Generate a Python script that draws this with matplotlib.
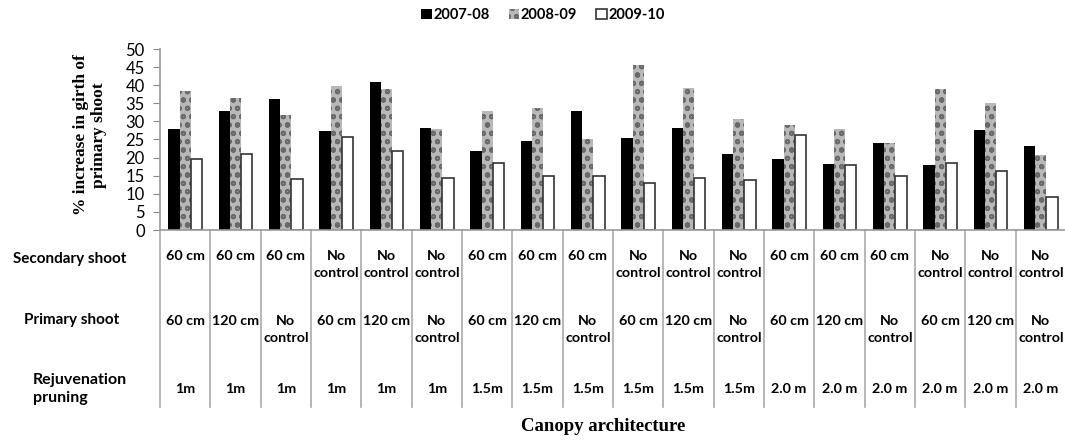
import numpy as np
import matplotlib.pyplot as plt
import matplotlib.transforms as mtransforms

# Data
years = ["2007-08", "2008-09", "2009-10"]
v0708 = [27.8, 32.8, 36.1, 27.4, 40.8, 28.3, 21.9, 24.7, 33.0, 25.3, 28.3, 21.0, 19.7, 18.3, 24.1, 17.9, 27.5, 23.3]
v0809 = [38.5, 36.4, 31.7, 39.8, 38.9, 28.0, 33.0, 33.7, 25.0, 45.6, 39.2, 30.7, 29.1, 28.0, 24.0, 38.9, 35.2, 20.6]
v0910 = [19.6, 20.9, 14.2, 25.6, 21.9, 14.5, 18.5, 14.8, 14.8, 13.1, 14.5, 13.8, 26.3, 17.9, 14.8, 18.5, 16.2, 9.2]

secondary = ["60 cm", "60 cm", "60 cm", "No\ncontrol", "No\ncontrol", "No\ncontrol"] * 3
primary = ["60 cm", "120 cm", "No\ncontrol"] * 6
rejuv = ["1m"] * 6 + ["1.5m"] * 6 + ["2.0 m"] * 6
row_labels = ["Secondary shoot", "Primary shoot", "Rejuvenation\npruning"]

W, H = 1065, 440
fig = plt.figure(figsize=(W / 100, H / 100), dpi=100)
ax = fig.add_axes([160 / W, 1 - 230 / H, (1066 - 160) / W, (230 - 49) / H])

n = len(v0708)
x = np.arange(n)
bw = 0.225
ax.bar(x - bw, v0708, bw, color="black", label=years[0])
plt.rcParams["hatch.linewidth"] = 1.4
ax.bar(x, v0809, bw, facecolor="#b8b8b8", edgecolor="#6a6a6a", hatch="oo", linewidth=0, label=years[1])
ax.bar(x + bw, v0910, bw, facecolor="white", edgecolor="#333333", linewidth=1.2, label=years[2])

ax.set_xlim(-0.5, n - 0.5)
ax.set_ylim(0, 50)
ax.set_yticks(range(0, 51, 5))
ax.set_xticks(np.arange(-0.5, n, 1))
ax.set_xticklabels([])
ax.tick_params(axis="x", length=0)
ax.tick_params(axis="y", length=5, color="#888888", labelsize=12, pad=6)
for lab in ax.get_yticklabels():
    lab.set_fontfamily("Lato")
for s in ["top", "right"]:
    ax.spines[s].set_visible(False)
for s in ["left", "bottom"]:
    ax.spines[s].set_color("#999999")
    ax.spines[s].set_linewidth(1.2)

ax.set_ylabel("% increase in girth of\nprimary shoot", fontfamily="Liberation Serif",
              fontweight="bold", fontsize=12.5, linespacing=1.15)
ax.yaxis.set_label_coords(-53 / (1066 - 160), 0.525)

# table below the axes
tr = mtransforms.blended_transform_factory(ax.transData, fig.transFigure)
def fy(py):
    return 1 - py / H

for b in np.arange(-0.5, n - 0.5, 1):
    ax.plot([b, b], [fy(230), fy(407)], transform=tr, color="#aaaaaa", lw=1.2, clip_on=False)

cell_font = dict(fontfamily="Lato", fontweight="bold", fontsize=10.3, ha="center", va="top",
                 linespacing=1.45, transform=tr)
for i in range(n):
    ax.text(i, fy(250), secondary[i], **cell_font)
    ax.text(i, fy(315), primary[i], **cell_font)
    ax.text(i, fy(389), rejuv[i], fontfamily="Lato", fontweight="bold", fontsize=10.3,
            ha="center", va="center", transform=tr)

lab_font = dict(fontfamily="Lato", fontweight="bold", fontsize=11)
fig.text(70 / W, fy(259), row_labels[0], ha="center", va="center", **lab_font)
fig.text(72 / W, fy(320), row_labels[1], ha="center", va="center", **lab_font)
fig.text(33 / W, fy(389), row_labels[2], ha="left", va="center", linespacing=1.45,
         fontfamily="Lato", fontweight="bold", fontsize=11.5)

fig.text(603 / W, fy(426), "Canopy architecture", ha="center", va="center",
         fontfamily="Liberation Serif", fontweight="bold", fontsize=13.5)

fig.legend(loc="center", bbox_to_anchor=(543 / W, fy(15)), ncol=3, frameon=False,
           prop=dict(family="Lato", weight="bold", size=10.5), handlelength=0.75,
           handleheight=0.75, handletextpad=0.1, columnspacing=1.3)

fig.savefig("out.png", dpi=100)
